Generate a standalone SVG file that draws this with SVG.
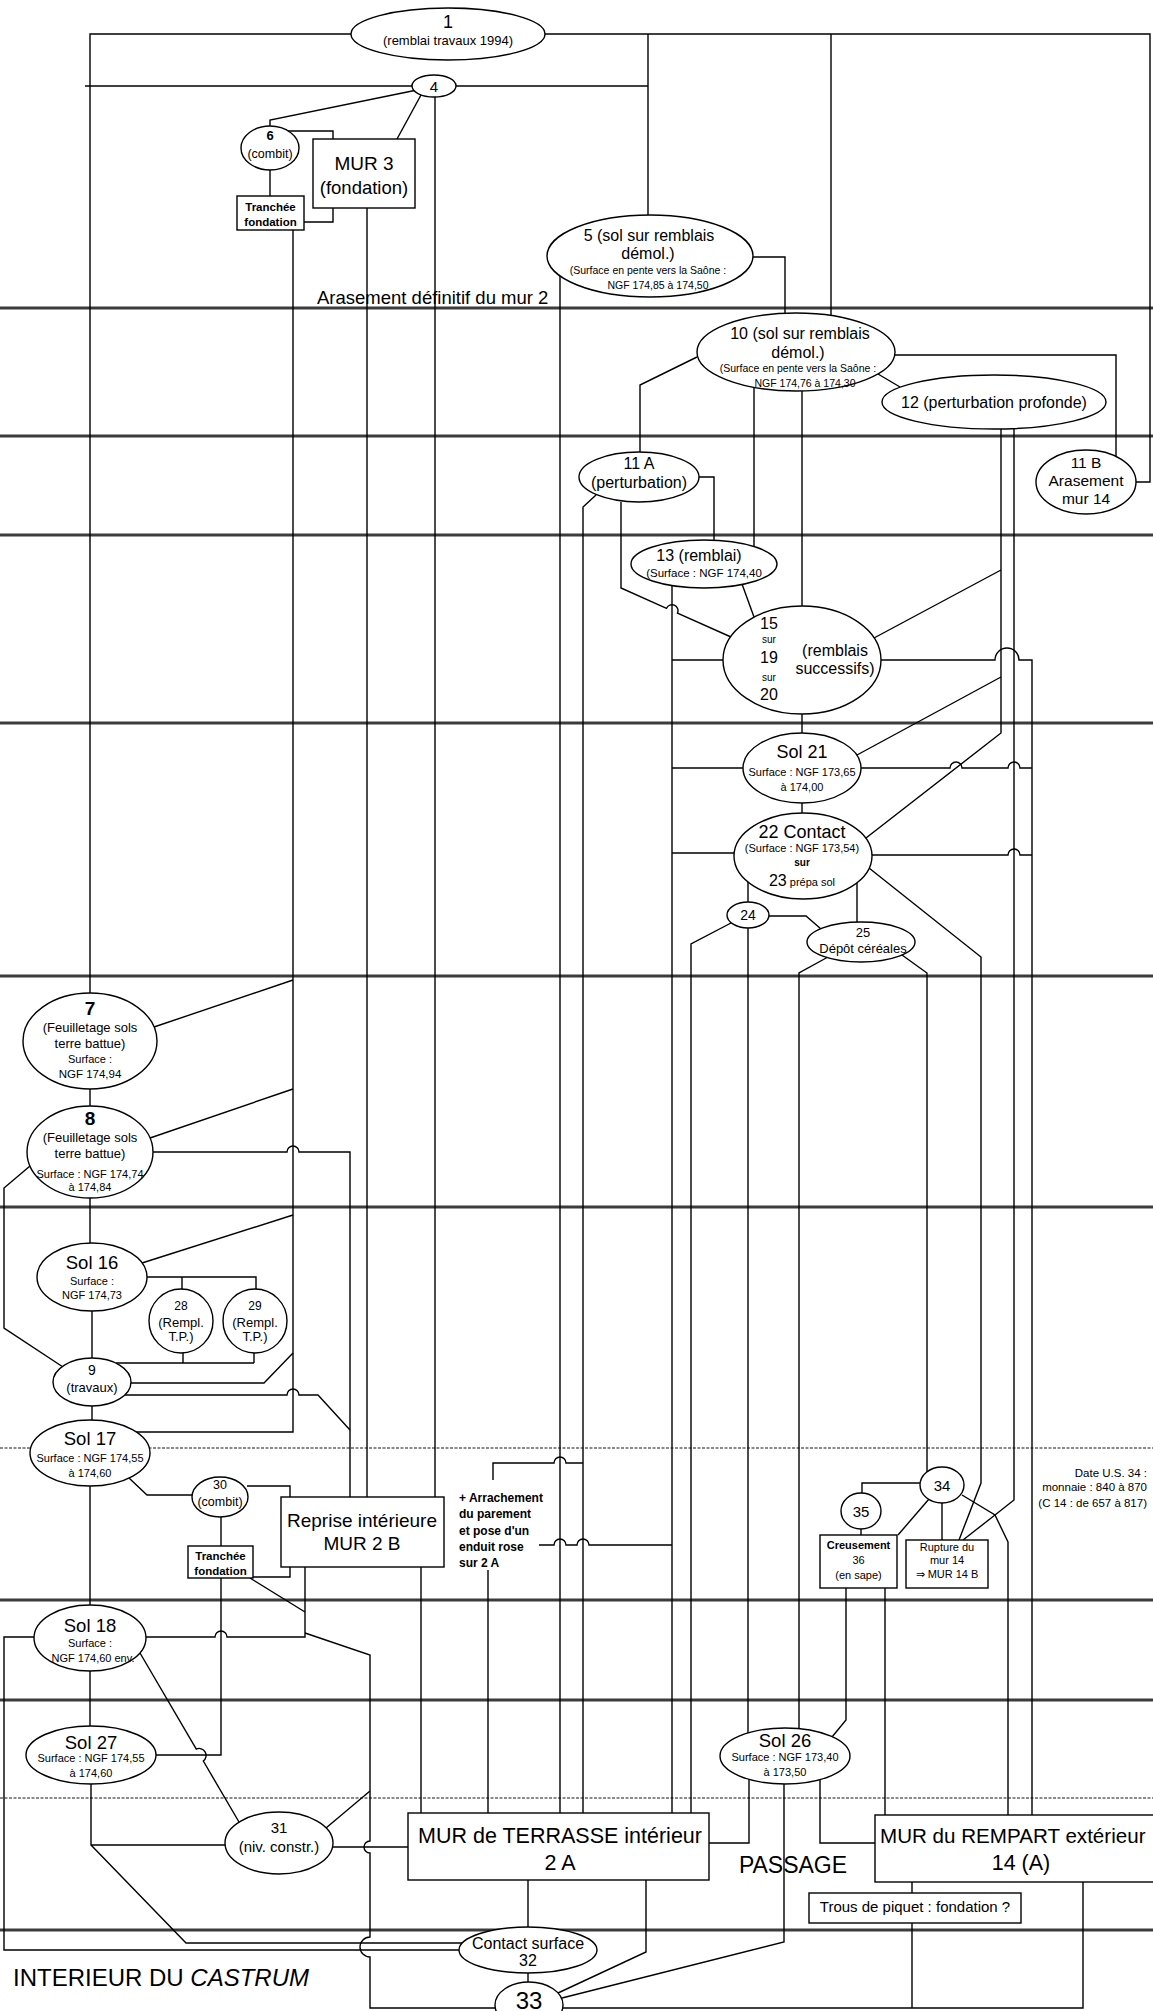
<svg xmlns="http://www.w3.org/2000/svg" width="1153" height="2011" viewBox="0 0 1153 2011">
<style>
.band{stroke:#3c3c3c;stroke-width:3;fill:none}
.dband{stroke:#8a8a8a;stroke-width:2.2;stroke-dasharray:3 1.5;fill:none}
.c{fill:none;stroke:#000;stroke-width:1.4}
.n{fill:#fff;stroke:#000;stroke-width:1.4}
text{font-family:"Liberation Sans",Arial,Helvetica,sans-serif;fill:#000;text-anchor:middle}
.l{text-anchor:start}
.r{text-anchor:end}
.b{font-weight:bold}
</style>
<rect width="1153" height="2011" fill="#fff"/>
<g id="bands">
<path class="band" d="M0,308H1153M0,436H1153M0,535H1153M0,723H1153M0,976H1153M0,1207H1153M0,1600H1153M0,1700H1153M0,1930H1153"/>
<path class="dband" d="M0,1448H1153M0,1798H1153"/>
</g>
<g id="connectors">
<path class="c" d="M351,34H90V993"/>
<path class="c" d="M545,34H1150V482H1136"/>
<path class="c" d="M648,34V215"/>
<path class="c" d="M831,34V316"/>
<path class="c" d="M85,86H413"/>
<path class="c" d="M456,86H648"/>
<path class="c" d="M417,90L270,120V126"/>
<path class="c" d="M421,95L397,139"/>
<path class="c" d="M270,170V196"/>
<path class="c" d="M288,131H333V222H304"/>
<path class="c" d="M293,230V1432H136"/>
<path class="c" d="M367,208V1497"/>
<path class="c" d="M435,97V1497"/>
<path class="c" d="M560,276V1813"/>
<path class="c" d="M753,257H785V313"/>
<path class="c" d="M894,355H1116V456"/>
<path class="c" d="M878,374L900,387"/>
<path class="c" d="M697,357L640,385V452"/>
<path class="c" d="M754,387V547"/>
<path class="c" d="M802,391V606"/>
<path class="c" d="M699,477H714V540"/>
<path class="c" d="M596,495L583,507V1813"/>
<path class="c" d="M621,502V588L666.5,608.3A6,6 0 0 1 677.5,613.1L731,637"/>
<path class="c" d="M672,586V1813"/>
<path class="c" d="M672,660H723"/>
<path class="c" d="M742,584L754,617"/>
<path class="c" d="M1001,429V733L866,838"/>
<path class="c" d="M1014,429V1500L995,1515L963,1540"/>
<path class="c" d="M874,638L1001,570"/>
<path class="c" d="M881,660H995A12,12 0 0 1 1019,660H1032V1815"/>
<path class="c" d="M1001,677L857,755"/>
<path class="c" d="M861,768H950A6,6 0 0 1 962,768H1008A6,6 0 0 1 1020,768H1032"/>
<path class="c" d="M743,768H672"/>
<path class="c" d="M802,714V733"/>
<path class="c" d="M802,803V813"/>
<path class="c" d="M734,853H672"/>
<path class="c" d="M872,855H1008A6,6 0 0 1 1020,855H1032"/>
<path class="c" d="M869,868L981,957V1483L959,1540"/>
<path class="c" d="M748,882V902"/>
<path class="c" d="M857,883V922"/>
<path class="c" d="M768,916H806L821,929"/>
<path class="c" d="M731,923L691,944V1813"/>
<path class="c" d="M748,928V1733"/>
<path class="c" d="M828,957L799,973V1729"/>
<path class="c" d="M902,955L927,973V1472"/>
<path class="c" d="M154,1027L293,980"/>
<path class="c" d="M90,1089V1106"/>
<path class="c" d="M150,1138L293,1089"/>
<path class="c" d="M153,1152H287A6,6 0 0 1 299,1152H350V1497"/>
<path class="c" d="M30,1166L4,1188V1328L63,1367"/>
<path class="c" d="M90,1198V1243"/>
<path class="c" d="M142,1263L293,1215"/>
<path class="c" d="M147,1277H256V1289M182,1277V1289"/>
<path class="c" d="M92,1311V1358"/>
<path class="c" d="M183,1353V1363M254,1353V1363M116,1363H254"/>
<path class="c" d="M131,1383H264L293,1353"/>
<path class="c" d="M125,1395H287A6,6 0 0 1 299,1395H318L350,1430"/>
<path class="c" d="M92,1406V1420"/>
<path class="c" d="M129,1478L147,1495H192"/>
<path class="c" d="M247,1486H290V1497"/>
<path class="c" d="M221,1517V1546"/>
<path class="c" d="M253,1577H290V1567"/>
<path class="c" d="M221,1578V1755H156"/>
<path class="c" d="M250,1578L305,1612"/>
<path class="c" d="M305,1567V1637H227A6,6 0 0 0 215,1637H146"/>
<path class="c" d="M305,1633L370,1655V1841A6,6 0 0 0 370,1853V1937A10,10 0 0 0 370,1957V2008H495"/>
<path class="c" d="M90,1486V1605"/>
<path class="c" d="M35,1637H4V1950H459"/>
<path class="c" d="M90,1671V1726"/>
<path class="c" d="M140,1653L196.3,1749A7,7 0 0 1 203.3,1761L239,1822"/>
<path class="c" d="M91,1784V1845H225M91,1845L186,1943H462"/>
<path class="c" d="M333,1847H408"/>
<path class="c" d="M326,1828L370,1791"/>
<path class="c" d="M421,1567V1813"/>
<path class="c" d="M488,1570V1813"/>
<path class="c" d="M493,1480V1463H554A6,6 0 0 1 566,1463H583"/>
<path class="c" d="M539,1545H554A6,6 0 0 1 566,1545H577A6,6 0 0 1 589,1545H672"/>
<path class="c" d="M528,1880V1927"/>
<path class="c" d="M646,1880V1952L558,1993"/>
<path class="c" d="M528,1973V1982"/>
<path class="c" d="M784,1784V1942L562,1998"/>
<path class="c" d="M563,2008H1083V1882"/>
<path class="c" d="M912,1882V2008"/>
<path class="c" d="M749,1779V1843H709"/>
<path class="c" d="M820,1780V1843H875"/>
<path class="c" d="M832,1737L846,1720V1588"/>
<path class="c" d="M885,1588V1815"/>
<path class="c" d="M962,1495L995,1515L1008,1542V1815"/>
<path class="c" d="M920,1483H862V1493"/>
<path class="c" d="M929,1499L898,1535"/>
<path class="c" d="M942,1503V1540"/>
<path class="c" d="M861,1529V1535"/>
</g>
<g id="n1"><ellipse class="n" cx="448" cy="34" rx="97" ry="26"/><text x="448" y="28" font-size="18">1</text><text x="448" y="44.5" font-size="13">(remblai travaux 1994)</text></g>
<g id="n4"><ellipse class="n" cx="434" cy="86" rx="22" ry="11"/><text x="434" y="91.5" font-size="15">4</text></g>
<g id="n6"><ellipse class="n" cx="270" cy="148" rx="29" ry="22"/><text x="270" y="140" font-size="13" class="b">6</text><text x="270" y="157.5" font-size="12.5">(combit)</text></g>
<g id="mur3"><rect class="n" x="313" y="139" width="102" height="69"/><text x="364" y="170" font-size="19">MUR  3</text><text x="364" y="193.5" font-size="18.5">(fondation)</text></g>
<g id="tranchee1"><rect class="n" x="237" y="196" width="67" height="34"/><text x="270.5" y="211" font-size="11.5" class="b">Tranchée</text><text x="270.5" y="226" font-size="11.5" class="b">fondation</text></g>
<g id="arasement"><text class="l" x="317" y="304" font-size="18.5">Arasement définitif du mur 2</text></g>
<g id="n5"><ellipse class="n" cx="650" cy="256" rx="103" ry="41"/><text x="649" y="240.5" font-size="16">5  (sol sur remblais</text><text x="648" y="258.5" font-size="16">démol.)</text><text x="648" y="274" font-size="10.5">(Surface en pente vers la Saône :</text><text x="658" y="289" font-size="10.5">NGF 174,85 à 174,50</text></g>
<g id="n10"><ellipse class="n" cx="796" cy="352" rx="99" ry="39"/><text x="800" y="338.5" font-size="16">10 (sol sur remblais</text><text x="798" y="357.5" font-size="16">démol.)</text><text x="798" y="372" font-size="10.5">(Surface en pente vers la Saône :</text><text x="805" y="387" font-size="10.5">NGF 174,76 à 174,30</text></g>
<g id="n12"><ellipse class="n" cx="994" cy="402" rx="112" ry="27"/><text x="994" y="408" font-size="16">12  (perturbation profonde)</text></g>
<g id="n11a"><ellipse class="n" cx="639" cy="477" rx="60" ry="25"/><text x="639" y="468.5" font-size="16">11 A</text><text x="639" y="487.5" font-size="16">(perturbation)</text></g>
<g id="n11b"><ellipse class="n" cx="1086" cy="482" rx="50" ry="32"/><text x="1086" y="467.5" font-size="15.5">11 B</text><text x="1086" y="485.5" font-size="15.5">Arasement</text><text x="1086" y="503.5" font-size="15.5">mur 14</text></g>
<g id="n13"><ellipse class="n" cx="704" cy="564" rx="73" ry="24"/><text x="699" y="560.5" font-size="16">13 (remblai)</text><text x="704" y="577" font-size="11.5">(Surface : NGF 174,40</text></g>
<g id="n15"><ellipse class="n" cx="802" cy="660" rx="79" ry="54"/><text x="769" y="628.5" font-size="16">15</text><text x="769" y="642.5" font-size="10">sur</text><text x="769" y="662.5" font-size="16">19</text><text x="769" y="680.5" font-size="10">sur</text><text x="769" y="699.5" font-size="16">20</text><text x="835" y="655.5" font-size="16">(remblais</text><text x="835" y="673.5" font-size="16">successifs)</text></g>
<g id="sol21"><ellipse class="n" cx="802" cy="768" rx="59" ry="35"/><text x="802" y="758" font-size="18">Sol 21</text><text x="802" y="776" font-size="11">Surface : NGF 173,65</text><text x="802" y="791" font-size="11">à 174,00</text></g>
<g id="n22"><ellipse class="n" cx="803" cy="856" rx="69" ry="43"/><text x="802" y="838" font-size="18">22 Contact</text><text x="802" y="852" font-size="11">(Surface : NGF 173,54)</text><text x="802" y="865.5" font-size="10" class="b">sur</text><text x="802" y="886"><tspan font-size="16">23</tspan><tspan font-size="11"> prépa sol</tspan></text></g>
<g id="n24"><ellipse class="n" cx="748" cy="915" rx="21" ry="13"/><text x="748" y="920" font-size="14">24</text></g>
<g id="n25"><ellipse class="n" cx="861" cy="942" rx="54" ry="20"/><text x="863" y="936.5" font-size="13">25</text><text x="863" y="952.5" font-size="13">Dépôt céréales</text></g>
<g id="n7"><ellipse class="n" cx="90" cy="1041" rx="67" ry="48"/><text x="90" y="1014.5" font-size="19" class="b">7</text><text x="90" y="1031.5" font-size="13">(Feuilletage sols</text><text x="90" y="1047.5" font-size="13">terre battue)</text><text x="90" y="1063" font-size="11">Surface :</text><text x="90" y="1078" font-size="11.5">NGF 174,94</text></g>
<g id="n8"><ellipse class="n" cx="90" cy="1152" rx="63" ry="46"/><text x="90" y="1124.5" font-size="19" class="b">8</text><text x="90" y="1141.5" font-size="13">(Feuilletage sols</text><text x="90" y="1157.5" font-size="13">terre battue)</text><text x="90" y="1178" font-size="11">Surface : NGF 174,74</text><text x="90" y="1191" font-size="11">à 174,84</text></g>
<g id="sol16"><ellipse class="n" cx="92" cy="1277" rx="55" ry="34"/><text x="92" y="1268.5" font-size="18.5">Sol 16</text><text x="92" y="1285" font-size="11">Surface :</text><text x="92" y="1299" font-size="11">NGF 174,73</text></g>
<g id="n28"><ellipse class="n" cx="181" cy="1321" rx="32" ry="32"/><text x="181" y="1310" font-size="12">28</text><text x="181" y="1326.5" font-size="13">(Rempl.</text><text x="181" y="1340.5" font-size="13">T.P.)</text></g>
<g id="n29"><ellipse class="n" cx="255" cy="1321" rx="32" ry="32"/><text x="255" y="1310" font-size="12">29</text><text x="255" y="1326.5" font-size="13">(Rempl.</text><text x="255" y="1340.5" font-size="13">T.P.)</text></g>
<g id="n9"><ellipse class="n" cx="92" cy="1382" rx="39" ry="24"/><text x="92" y="1375" font-size="14">9</text><text x="92" y="1391.5" font-size="13">(travaux)</text></g>
<g id="sol17"><ellipse class="n" cx="90" cy="1453" rx="60" ry="33"/><text x="90" y="1444.5" font-size="18.5">Sol 17</text><text x="90" y="1462" font-size="11">Surface : NGF 174,55</text><text x="90" y="1477" font-size="11">à 174,60</text></g>
<g id="n30"><ellipse class="n" cx="220" cy="1497" rx="28" ry="20"/><text x="220" y="1488.5" font-size="12.5">30</text><text x="220" y="1505.5" font-size="12.5">(combit)</text></g>
<g id="tranchee2"><rect class="n" x="188" y="1546" width="65" height="32"/><text x="220.5" y="1560" font-size="11.5" class="b">Tranchée</text><text x="220.5" y="1575" font-size="11.5" class="b">fondation</text></g>
<g id="reprise"><rect class="n" x="281" y="1497" width="163" height="70"/><text x="362" y="1527" font-size="19">Reprise intérieure</text><text x="362" y="1550" font-size="19">MUR  2 B</text></g>
<g id="arrachement"><text class="l b" x="459" y="1502" font-size="12">+ Arrachement</text><text class="l b" x="459" y="1518" font-size="12">du parement</text><text class="l b" x="459" y="1535" font-size="12">et pose d'un</text><text class="l b" x="459" y="1551" font-size="12">enduit rose</text><text class="l b" x="459" y="1567" font-size="12">sur 2 A</text></g>
<g id="n34"><ellipse class="n" cx="942" cy="1485" rx="22" ry="18"/><text x="942" y="1490.5" font-size="15">34</text></g>
<g id="n35"><ellipse class="n" cx="861" cy="1511" rx="20" ry="18"/><text x="861" y="1516.5" font-size="15">35</text></g>
<g id="creusement"><rect class="n" x="820" y="1535" width="77" height="53"/><text x="858.5" y="1549" font-size="11" class="b">Creusement</text><text x="858.5" y="1564" font-size="11">36</text><text x="858.5" y="1579" font-size="11">(en sape)</text></g>
<g id="rupture"><rect class="n" x="906" y="1540" width="82" height="48"/><text x="947" y="1551" font-size="11">Rupture du</text><text x="947" y="1564" font-size="11">mur 14</text><text x="947" y="1578" font-size="11">⇒ MUR 14 B</text></g>
<g id="date"><text class="r" x="1147" y="1477" font-size="11.5">Date U.S. 34 :</text><text class="r" x="1147" y="1491" font-size="11.5">monnaie : 840 à 870</text><text class="r" x="1147" y="1507" font-size="11.5">(C 14 : de 657 à 817)</text></g>
<g id="sol18"><ellipse class="n" cx="90" cy="1638" rx="56" ry="33"/><text x="90" y="1631.5" font-size="18.5">Sol 18</text><text x="90" y="1647" font-size="11">Surface :</text><text x="93" y="1662" font-size="11">NGF 174,60 env.</text></g>
<g id="sol27"><ellipse class="n" cx="91" cy="1755" rx="65" ry="29"/><text x="91" y="1748.5" font-size="18.5">Sol 27</text><text x="91" y="1762" font-size="11">Surface : NGF 174,55</text><text x="91" y="1777" font-size="11">à 174,60</text></g>
<g id="n31"><ellipse class="n" cx="279" cy="1843" rx="54" ry="31"/><text x="279" y="1833" font-size="15">31</text><text x="279" y="1852" font-size="15">(niv. constr.)</text></g>
<g id="sol26"><ellipse class="n" cx="785" cy="1756" rx="65" ry="28"/><text x="785" y="1746.5" font-size="18.5">Sol 26</text><text x="785" y="1761" font-size="11">Surface : NGF 173,40</text><text x="785" y="1776" font-size="11">à 173,50</text></g>
<g id="terrasse"><rect class="n" x="408" y="1813" width="301" height="67"/><text x="560" y="1842.5" font-size="21.5">MUR de TERRASSE intérieur</text><text x="560" y="1869.5" font-size="21.5">2 A</text></g>
<g id="rempart"><rect class="n" x="875" y="1815" width="290" height="67"/><text class="l" x="880" y="1842.5" font-size="20.6">MUR du REMPART extérieur</text><text x="1021" y="1869.5" font-size="21.5">14 (A)</text></g>
<g id="passage"><text x="793" y="1873" font-size="23">PASSAGE</text></g>
<g id="trous"><rect class="n" x="809" y="1893" width="212" height="30"/><text x="915" y="1912" font-size="15">Trous de piquet : fondation ?</text></g>
<g id="n32"><ellipse class="n" cx="528" cy="1950" rx="69" ry="23"/><text x="528" y="1948.5" font-size="16">Contact surface</text><text x="528" y="1966" font-size="16">32</text></g>
<g id="n33"><ellipse class="n" cx="529" cy="2005" rx="34" ry="23"/><text x="529" y="2009" font-size="24">33</text></g>
<g id="castrum"><text class="l" x="13" y="1986" font-size="24">INTERIEUR DU <tspan font-style="italic">CASTRUM</tspan></text></g>
</svg>
